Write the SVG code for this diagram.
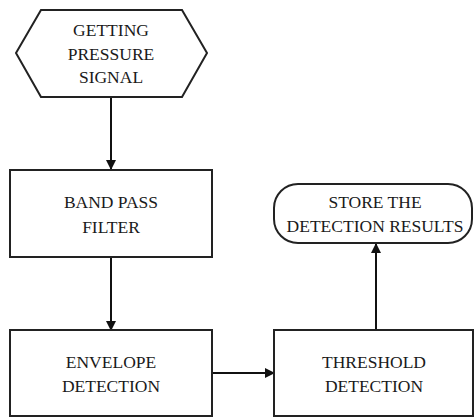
<svg xmlns="http://www.w3.org/2000/svg" width="474" height="418" viewBox="0 0 474 418">
<style>
.s{fill:#fff;stroke:#222;stroke-width:2}
.t{font-family:'Liberation Serif','DejaVu Serif',Times,serif;font-size:17.5px;fill:#1a1a1a;text-anchor:middle}
.c{stroke:#111;stroke-width:2;fill:none}
</style>
<defs>
<marker id="a" markerWidth="10" markerHeight="10" refX="9" refY="5" orient="auto" markerUnits="userSpaceOnUse">
<path d="M0,0 L10,5 L0,10 z" fill="#111"/>
</marker>
</defs>
<rect width="474" height="418" fill="#fff"/>
<g id="connectors">
<line class="c" x1="111" y1="97" x2="111" y2="169" marker-end="url(#a)"/>
<line class="c" x1="111" y1="257" x2="111" y2="330" marker-end="url(#a)"/>
<line class="c" x1="212" y1="373" x2="274" y2="373" marker-end="url(#a)"/>
<line class="c" x1="376" y1="330" x2="376" y2="244" marker-end="url(#a)"/>
</g>
<g id="getting">
<polygon class="s" points="41,10 182,10 207,53 182,97 41,97 16,53"/>
<text class="t" font-family="Liberation Serif, serif" x="111" y="36">GETTING</text>
<text class="t" font-family="Liberation Serif, serif" x="111" y="60">PRESSURE</text>
<text class="t" font-family="Liberation Serif, serif" x="111" y="83">SIGNAL</text>
</g>
<g id="bandpass">
<rect class="s" x="10" y="170" width="202" height="87"/>
<text class="t" x="111" y="208">BAND PASS</text>
<text class="t" x="111" y="233">FILTER</text>
</g>
<g id="envelope">
<rect class="s" x="10" y="330" width="202" height="86"/>
<text class="t" x="111" y="368">ENVELOPE</text>
<text class="t" x="111" y="392">DETECTION</text>
</g>
<g id="threshold">
<rect class="s" x="274" y="330" width="199" height="86"/>
<text class="t" x="374" y="368">THRESHOLD</text>
<text class="t" x="374" y="392">DETECTION</text>
</g>
<g id="store">
<rect class="s" x="274" y="184" width="198" height="59" rx="24" ry="24"/>
<text class="t" x="375" y="208">STORE THE</text>
<text class="t" x="375" y="232">DETECTION RESULTS</text>
</g>
</svg>
